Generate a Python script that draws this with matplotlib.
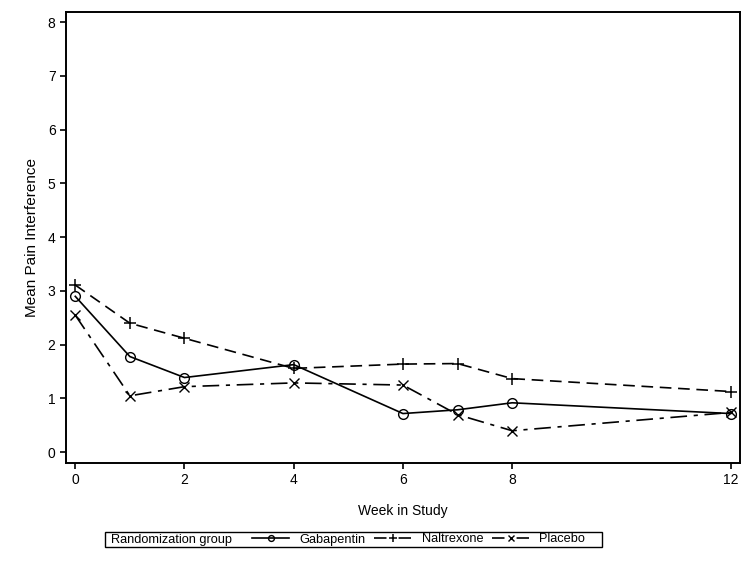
import matplotlib
matplotlib.use("Agg")
import matplotlib.pyplot as plt
from matplotlib.patches import Rectangle
from matplotlib.lines import Line2D

plt.rcParams['font.family'] = ['Liberation Sans', 'DejaVu Sans']

weeks = [0, 1, 2, 4, 6, 7, 8, 12]
gabapentin = [2.90, 1.78, 1.39, 1.63, 0.72, 0.79, 0.92, 0.72]
naltrexone = [3.11, 2.40, 2.12, 1.56, 1.64, 1.65, 1.37, 1.13]
placebo = [2.55, 1.05, 1.22, 1.29, 1.25, 0.70, 0.40, 0.74]
xticks = [0, 2, 4, 6, 8, 12]
yticks = [0, 1, 2, 3, 4, 5, 6, 7, 8]
labels = ['Gabapentin', 'Naltrexone', 'Placebo']

fig = plt.figure(figsize=(7.55, 5.67), dpi=100)
ax = fig.add_axes([0.0874, 0.1834, 0.980 - 0.0874, 0.978 - 0.1834])

lw = 1.2
h1, = ax.plot(weeks, gabapentin, color='black', lw=lw, ls='-', marker='o',
              mfc='none', mec='black', ms=7, mew=1.0, label=labels[0])
h2, = ax.plot(weeks, naltrexone, color='black', lw=lw, ls=(0, (7, 4)), marker='+',
              ms=9, mew=1.1, label=labels[1])
h3, = ax.plot(weeks, placebo, color='black', lw=lw, ls=(0, (10, 4, 2.5, 4)), marker='x',
              ms=7, mew=1.0, label=labels[2])

ax.set_xlim(-0.17, 12.17)
ax.set_ylim(-0.2, 8.18)
ax.set_xticks(xticks)
ax.set_yticks(yticks)
ax.tick_params(direction='out', length=4, width=1.2, labelsize=10, colors='black')
for s in ax.spines.values():
    s.set_linewidth(1.4)
ax.set_xlabel('Week in Study', fontsize=10, labelpad=12)
ax.set_ylabel('Mean Pain Interference', fontsize=11, labelpad=6)

# legend proxies (legend-style dash patterns)
lsize = 9.2
p1 = Line2D([], [], color='black', lw=lw, ls='-', marker='o', mfc='none',
            mec='black', ms=4.2, mew=1.0)
p2 = Line2D([], [], color='black', lw=lw, ls=(0, (7.5, 7.25)), marker='+',
            ms=6, mew=1.1)
p3 = Line2D([], [], color='black', lw=lw, ls=(0, (7.5, 7.25)), marker='x',
            ms=4.2, mew=1.0)

x0, x1 = 105 / 755, 602 / 755
yb, yt = 1 - 547 / 567, 1 - 532 / 567
fig.patches.append(Rectangle((x0, yb), x1 - x0, yt - yb, transform=fig.transFigure,
                             fill=False, edgecolor='black', lw=1.0))
fig.text(111 / 755, (yb + yt) / 2, 'Randomization group', fontsize=lsize,
         va='center', ha='left')
leg = fig.legend(handles=[p1, p2, p3], labels=labels, ncol=3, frameon=False,
                 loc='center left', bbox_to_anchor=(252 / 755, (yb + yt) / 2),
                 fontsize=lsize, handlelength=2.9, columnspacing=0.7,
                 handletextpad=0.8, borderpad=0, borderaxespad=0)

fig.savefig('out.png', dpi=100)
